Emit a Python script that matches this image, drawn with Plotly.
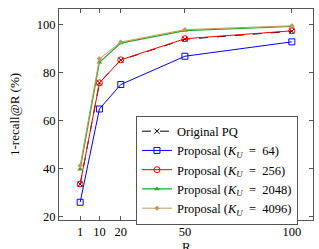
import plotly.graph_objects as go

R = [1, 10, 20, 50, 100]
orig_pq = [33.5, 75.8, 85.3, 94.0, 97.3]
ku64 = [26.0, 64.9, 75.1, 86.9, 92.9]
ku256 = [33.6, 75.8, 85.4, 94.2, 97.5]
ku2048 = [39.8, 84.4, 92.4, 97.6, 99.3]
ku4096 = [41.3, 85.8, 92.8, 98.0, 99.6]

x_ticks = [1, 10, 20, 50, 100]
y_ticks = [20, 40, 60, 80, 100]

FONT = "Liberation Serif"

def kname(v):
    return "Proposal (<i>K</i><sub><i>U</i></sub>  =  %d)" % v

fig = go.Figure()
fig.add_trace(go.Scatter(x=R, y=orig_pq, name="Original PQ", mode="lines+markers",
                         line=dict(color="black", width=1, dash="dash"),
                         marker=dict(symbol="x-thin", size=5, color="black",
                                     line=dict(color="black", width=1))))
fig.add_trace(go.Scatter(x=R, y=ku64, name=kname(64),
                         mode="lines+markers", line=dict(color="#0000ff", width=1),
                         marker=dict(symbol="square-open", size=6, color="#0000ff",
                                     line=dict(width=1))))
fig.add_trace(go.Scatter(x=R, y=ku256, name=kname(256),
                         mode="lines+markers", line=dict(color="#ff0000", width=1),
                         marker=dict(symbol="circle-open", size=6, color="#ff0000",
                                     line=dict(width=1))))
fig.add_trace(go.Scatter(x=R, y=ku2048, name=kname(2048),
                         mode="lines+markers", line=dict(color="#22aa22", width=1.2),
                         marker=dict(symbol="triangle-up", size=5, color="#22aa22")))
fig.add_trace(go.Scatter(x=R, y=ku4096, name=kname(4096),
                         mode="lines+markers", line=dict(color="#c8965a", width=1),
                         marker=dict(symbol="diamond", size=4, color="#c8965a")))

axis_common = dict(showgrid=False, zeroline=False, showline=True, linecolor="#555555",
                   linewidth=1, mirror="ticks", ticks="inside", ticklen=4, automargin=False,
                   tickcolor="#555555", tickfont=dict(family=FONT, size=12.5, color="black"))

fig.update_layout(
    width=319, height=249,
    margin=dict(l=59, r=6, t=9, b=29),
    paper_bgcolor="white", plot_bgcolor="white",
    font=dict(family=FONT, size=12, color="black"),
    showlegend=True,
    legend=dict(x=0.303, y=0.495, xanchor="left", yanchor="top",
                bgcolor="white", bordercolor="#555555", borderwidth=1,
                font=dict(family=FONT, size=12.5), tracegroupgap=0,
                itemwidth=30),
    xaxis=dict(range=[-8.9, 109.9], tickvals=x_ticks, ticktext=[str(v) for v in x_ticks],
               **axis_common),
    yaxis=dict(range=[18.6, 106.6], tickvals=y_ticks, ticktext=[str(v) for v in y_ticks],
               title=dict(text="1-recall@R (%)", font=dict(family=FONT, size=13), standoff=14),
               **axis_common),
    annotations=[dict(text="R", xref="paper", yref="paper", x=0.5, y=-0.082,
                      xanchor="center", yanchor="top", showarrow=False,
                      font=dict(family=FONT, size=13))],
)

fig.write_html("out.html")
